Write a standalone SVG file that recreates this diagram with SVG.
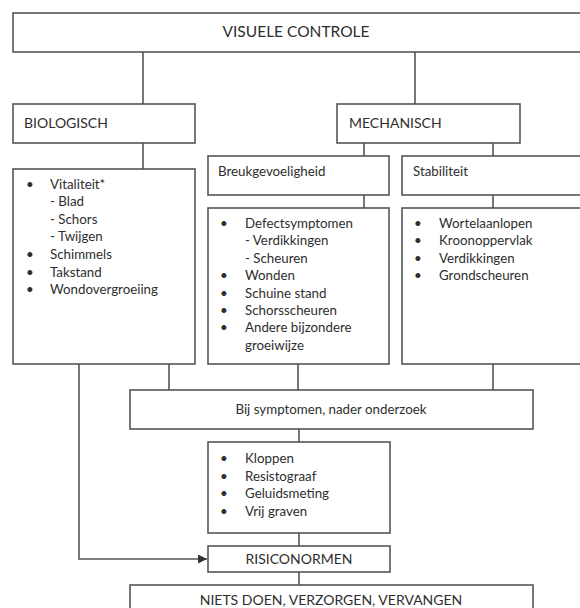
<svg xmlns="http://www.w3.org/2000/svg" width="580" height="608" viewBox="0 0 580 608">
<defs>
<style>
.box{fill:#fff;stroke:#555;stroke-width:1.6}
.ln{fill:none;stroke:#555;stroke-width:1.6}
text{font-family:Lato,"Open Sans","Liberation Sans",sans-serif;font-size:13.3px;fill:#2e2e2e}
.c{text-anchor:middle}
.cap{font-size:14px}
.big{font-size:15.5px}
</style>
<marker id="ah" viewBox="0 0 10 10" refX="10" refY="5" markerWidth="9" markerHeight="9" markerUnits="userSpaceOnUse" orient="auto"><path d="M0,0 L10,5 L0,10 z" fill="#333"/></marker>
</defs>
<rect width="580" height="608" fill="#fff"/>
<g id="connectors">
<path class="ln" d="M143,52V104M415,52V104M143,143V169M364,143V156M493,143V156M364,195V208M493,195V208M169,364V390M298,364V390M493,364V390M299,429V442M299,533V546M299,572V585"/>
<path class="ln" d="M79,364V559H207" marker-end="url(#ah)"/>
</g>
<g id="visuele"><rect class="box" x="13" y="13" width="580" height="39"/><text class="c big" x="296" y="37">VISUELE CONTROLE</text></g>
<g id="biologisch"><rect class="box" x="13" y="104" width="182" height="39"/><text class="cap" x="24" y="128">BIOLOGISCH</text></g>
<g id="mechanisch"><rect class="box" x="337" y="104" width="183" height="39"/><text class="cap" x="349" y="128">MECHANISCH</text></g>
<g id="bio-list"><rect class="box" x="13" y="169" width="182" height="195"/>
<text x="26" y="189">•</text><text x="50" y="189">Vitaliteit*</text>
<text x="50" y="206">- Blad</text>
<text x="50" y="224">- Schors</text>
<text x="50" y="241">- Twijgen</text>
<text x="26" y="259">•</text><text x="50" y="259">Schimmels</text>
<text x="26" y="277">•</text><text x="50" y="277">Takstand</text>
<text x="26" y="294">•</text><text x="50" y="294">Wondovergroeiing</text>
</g>
<g id="breuk"><rect class="box" x="208" y="156" width="181" height="39"/><text x="218" y="176">Breukgevoeligheid</text></g>
<g id="stabiliteit"><rect class="box" x="402" y="156" width="190" height="39"/><text x="413" y="176">Stabiliteit</text></g>
<g id="breuk-list"><rect class="box" x="208" y="208" width="181" height="156"/>
<text x="220" y="228">•</text><text x="245" y="228">Defectsymptomen</text>
<text x="245" y="245">- Verdikkingen</text>
<text x="245" y="263">- Scheuren</text>
<text x="220" y="280">•</text><text x="245" y="280">Wonden</text>
<text x="220" y="298">•</text><text x="245" y="298">Schuine stand</text>
<text x="220" y="315">•</text><text x="245" y="315">Schorsscheuren</text>
<text x="220" y="332">•</text><text x="245" y="332">Andere bijzondere</text>
<text x="245" y="350">groeiwijze</text>
</g>
<g id="stab-list"><rect class="box" x="402" y="208" width="190" height="156"/>
<text x="414" y="228">•</text><text x="439" y="228">Wortelaanlopen</text>
<text x="414" y="245">•</text><text x="439" y="245">Kroonoppervlak</text>
<text x="414" y="263">•</text><text x="439" y="263">Verdikkingen</text>
<text x="414" y="280">•</text><text x="439" y="280">Grondscheuren</text>
</g>
<g id="onderzoek"><rect class="box" x="130" y="390" width="403" height="39"/><text class="c" x="331" y="414">Bij symptomen, nader onderzoek</text></g>
<g id="methoden"><rect class="box" x="208" y="442" width="182" height="91"/>
<text x="220" y="463">•</text><text x="245" y="463">Kloppen</text>
<text x="220" y="481">•</text><text x="245" y="481">Resistograaf</text>
<text x="220" y="498">•</text><text x="245" y="498">Geluidsmeting</text>
<text x="220" y="516">•</text><text x="245" y="516">Vrij graven</text>
</g>
<g id="risiconormen"><rect class="box" x="208" y="546" width="182" height="26"/><text class="c cap" x="299" y="564">RISICONORMEN</text></g>
<g id="acties"><rect class="box" x="130" y="585" width="403" height="40"/><text class="c cap" x="331" y="605">NIETS DOEN, VERZORGEN, VERVANGEN</text></g>
</svg>
